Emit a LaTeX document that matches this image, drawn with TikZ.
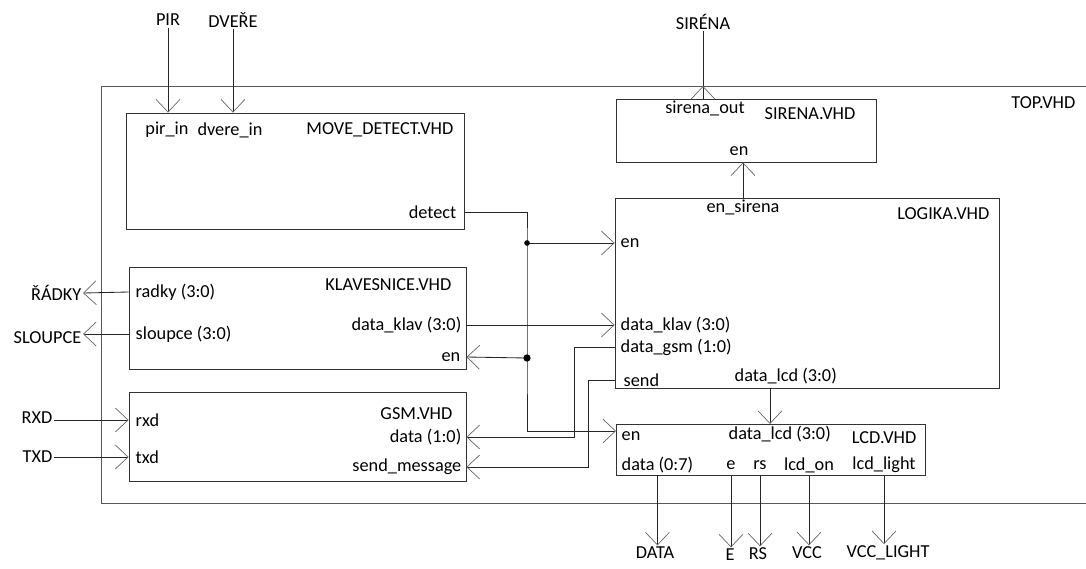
\documentclass[tikz,border=0pt]{standalone}
\usepackage{fontspec}
\setmainfont{Carlito}
\usetikzlibrary{arrows.meta,fit}

\begin{document}
\begin{tikzpicture}[x=0.025cm, y=-0.025cm,
  font=\fontsize{13}{15.5}\selectfont,
  frame/.style={draw=black!65, line width=0.6pt},
  block/.style={draw=black!80, line width=0.6pt, inner sep=0pt},
  lbl/.style={inner sep=1pt},
  wire/.style={draw=black!85, line width=0.6pt},
  arrow/.style={wire, -{Straight Barb[length=9pt, width=17pt, line width=0.5pt, color=black!60]}}
]
  \useasboundingbox (0,0) rectangle (1086,568);

  % top level
  \draw[frame] (1086,86) -| (101,503) -- (1086,503);
  \node[lbl, anchor=east] (top) at (1077,103) {TOP.VHD};

  % blocks
  \node[block, fit={(126,113) (464,229)}] (move) {};
  \node[block, fit={(129,267) (466,369)}] (klav) {};
  \node[block, fit={(129,392) (466,481)}] (gsm) {};
  \node[block, fit={(616,99) (876,162)}] (sirena) {};
  \node[block, fit={(615,198) (999,388)}] (logika) {};
  \node[block, fit={(616,424) (925,475)}] (lcd) {};

  % MOVE_DETECT
  \node[lbl] (pirin) at (167,130) {pir\_in};
  \node[lbl] (dvein) at (230,130) {dvere\_in};
  \node[lbl, anchor=east] (movet) at (455,130) {MOVE\_DETECT.VHD};
  \node[lbl, anchor=east] (detect) at (458,212) {detect};

  % KLAVESNICE
  \node[lbl, anchor=west] (radky) at (134,292) {radky (3:0)};
  \node[lbl, anchor=west] (sloupce) at (134,334) {sloupce (3:0)};
  \node[lbl, anchor=east] (klavt) at (453,285) {KLAVESNICE.VHD};
  \node[lbl, anchor=east] (dataklav) at (463,325) {data\_klav (3:0)};
  \node[lbl, anchor=east] (klaven) at (462,357) {en};

  % GSM
  \node[lbl, anchor=west] (rxd) at (134,420) {rxd};
  \node[lbl, anchor=west] (txd) at (134,457) {txd};
  \node[lbl, anchor=east] (gsmt) at (454,414) {GSM.VHD};
  \node[lbl, anchor=east] (gsmdata) at (463,437) {data (1:0)};
  \node[lbl, anchor=east] (sendmsg) at (463,467) {send\_message};

  % SIRENA
  \node[lbl] (sirout) at (705,108) {sirena\_out};
  \node[lbl, anchor=east] (sirt) at (857,114) {SIRENA.VHD};
  \node[lbl] (siren) at (739,151) {en};

  % LOGIKA
  \node[lbl] (ensir) at (743,207) {en\_sirena};
  \node[lbl, anchor=east] (logt) at (991,214) {LOGIKA.VHD};
  \node[lbl, anchor=west] (logen) at (619,243) {en};
  \node[lbl, anchor=west] (logklav) at (619,325) {data\_klav (3:0)};
  \node[lbl, anchor=west] (loggsm) at (619,347) {data\_gsm (1:0)};
  \node[lbl, anchor=west] (logsend) at (622,380) {send};
  \node[lbl, anchor=west] (loglcd) at (733,376) {data\_lcd (3:0)};

  % LCD
  \node[lbl, anchor=west] (lcden) at (620,436) {en};
  \node[lbl, anchor=west] (lcdin) at (727,434) {data\_lcd (3:0)};
  \node[lbl, anchor=east] (lcdt) at (918,438) {LCD.VHD};
  \node[lbl, anchor=west] (pdata) at (620,465) {data (0:7)};
  \node[lbl] (pe) at (731,465) {e};
  \node[lbl] (prs) at (760,465) {rs};
  \node[lbl] (pon) at (809,465) {lcd\_on};
  \node[lbl] (plight) at (884,465) {lcd\_light};

  % outside signals
  \node[lbl] (pir) at (168,20) {PIR};
  \node[lbl] (dvere) at (233,20) {DVEŘE};
  \node[lbl] (siro) at (703,22) {SIRÉNA};
  \node[lbl, anchor=east] (radkyo) at (83,293) {ŘÁDKY};
  \node[lbl, anchor=east] (sloupceo) at (83,338) {SLOUPCE};
  \node[lbl, anchor=east] (rxdo) at (54,418) {RXD};
  \node[lbl, anchor=east] (txdo) at (54,457) {TXD};
  \node[lbl] (odata) at (655,553) {DATA};
  \node[lbl] (oe) at (730,555) {E};
  \node[lbl] (ors) at (758,554) {RS};
  \node[lbl] (ovcc) at (807,553) {VCC};
  \node[lbl] (ovccl) at (888,553) {VCC\_LIGHT};

  \coordinate (j1) at (527,243);
  \coordinate (j2) at (527,358);
  \coordinate (sirtop) at (703,86);
  \coordinate (lcdbus) at (770,424);
  \coordinate (lcdenpin) at (616,431);

  % connections
  \draw[arrow] (pir.south) -- (pir.south |- move.north);
  \draw[arrow] (dvere.south) -- (dvere.south |- move.north);
  \draw[arrow] (sirena.north -| sirtop) -- (sirtop);
  \draw[wire] (sirtop) -- (siro.south);
  \draw[arrow] (logika.north -| ensir) -- (sirena.south -| ensir);
  \draw[arrow] (move.east |- detect) -| (j1) -- (j2) |- (lcdenpin);
  \draw[arrow] (j1) -- (logika.west |- logen);
  \draw[arrow] (j2) -- (klav.east |- klaven);
  \draw[arrow] (klav.east |- dataklav) -- (logika.west |- logklav);
  \draw[arrow] (logika.west |- loggsm) -- ++(-40,0) |- (gsm.east |- gsmdata);
  \draw[arrow] (logika.west |- logsend) -- ++(-26,0) |- (gsm.east |- sendmsg);
  \draw[arrow] (logika.south -| lcdbus) -- (lcdbus);
  \draw[arrow] (klav.west |- radky) -- (radkyo.east);
  \draw[arrow] (klav.west |- sloupce) -- (sloupceo.east |- sloupce);
  \draw[arrow] (rxdo.east |- rxd) -- (gsm.west |- rxd);
  \draw[arrow] (txdo.east |- txd) -- (gsm.west |- txd);
  \foreach \p/\o in {pdata/odata, pe/oe, prs/ors, pon/ovcc, plight/ovccl}
    \draw[arrow] (lcd.south -| \p) -- (\p |- \o.north);
  \fill (j1) circle[radius=2pt];
  \fill (j2) circle[radius=2.6pt];
\end{tikzpicture}
\end{document}
